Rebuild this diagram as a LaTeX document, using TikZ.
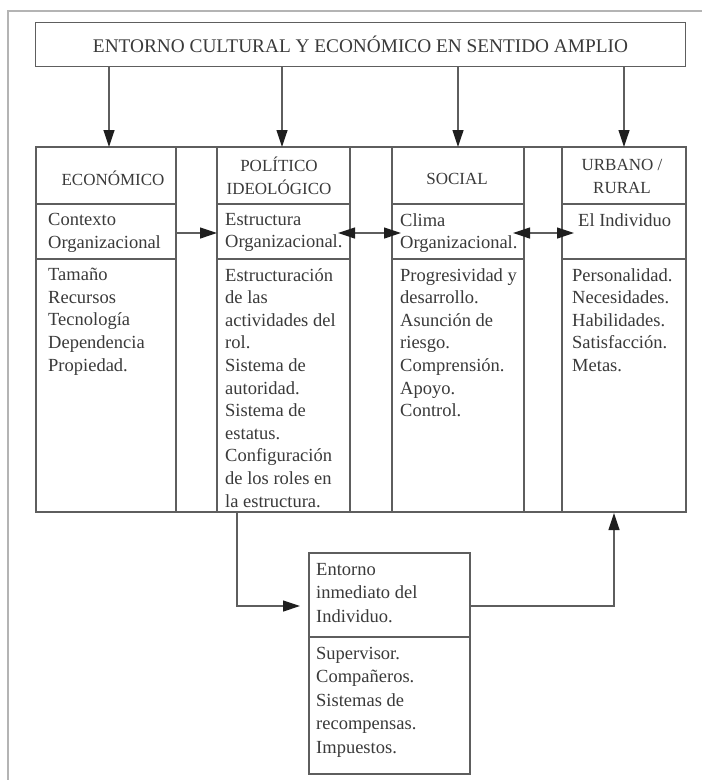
\documentclass[tikz,border=0pt]{standalone}
\usepackage{fontspec}
\setmainfont{Liberation Serif}
\usetikzlibrary{arrows.meta,calc}
\definecolor{linec}{HTML}{5E5E5E}
\definecolor{framec}{HTML}{B4B4B4}
\definecolor{tipc}{HTML}{1E1E1E}
\definecolor{txtc}{HTML}{3A3A3A}
\begin{document}
\begin{tikzpicture}[x=1pt,y=-1pt,
  box/.style={draw=linec, line width=1.2pt, outer sep=0pt, inner sep=0pt, anchor=north west},
  txt/.style={text=txtc, font=\fontsize{18.5}{22.6}\selectfont, align=left, inner sep=0pt, anchor=north west},
  btxt/.style={text=txtc, font=\fontsize{18.5}{23.5}\selectfont, align=left, inner sep=0pt, anchor=north west},
  hdr/.style={text=txtc, font=\fontsize{17}{23}\selectfont, align=center, inner sep=0pt},
  arr/.style={draw=linec, line width=1.2pt, -{Triangle[length=17pt,width=11pt,color=tipc]}},
  darr/.style={draw=linec, line width=1.2pt, {Triangle[length=17pt,width=11pt,color=tipc]}-{Triangle[length=17pt,width=11pt,color=tipc]}}
]
\useasboundingbox (0,0) rectangle (702,780);
\fill[white] (0,0) rectangle (702,780);
% outer frame
\draw[framec, line width=2pt] (8,780) -- (8,11) -- (702,11);
% top box
\node[box, minimum width=650pt, minimum height=44pt, text=txtc, font=\fontsize{19.3}{23}\selectfont] (top) at (35.5,22.5) {ENTORNO CULTURAL Y ECONÓMICO EN SENTIDO AMPLIO};
% band
\node[box, minimum width=650pt, minimum height=365pt] (band) at (36,147) {};
% column 1
\node[box, minimum width=140pt, minimum height=57pt] (h1) at (36,147) {};
\node[box, minimum width=140pt, minimum height=55pt] (m1) at (36,204) {};
\node[box, minimum width=140pt, minimum height=253pt] (b1) at (36,259) {};
% column 2
\node[box, minimum width=133pt, minimum height=57pt] (h2) at (217,147) {};
\node[box, minimum width=133pt, minimum height=55pt] (m2) at (217,204) {};
\node[box, minimum width=133pt, minimum height=253pt] (b2) at (217,259) {};
% column 3
\node[box, minimum width=132pt, minimum height=57pt] (h3) at (392,147) {};
\node[box, minimum width=132pt, minimum height=55pt] (m3) at (392,204) {};
\node[box, minimum width=132pt, minimum height=253pt] (b3) at (392,259) {};
% column 4
\node[box, minimum width=124pt, minimum height=57pt] (h4) at (562,147) {};
\node[box, minimum width=124pt, minimum height=55pt] (m4) at (562,204) {};
\node[box, minimum width=124pt, minimum height=253pt] (b4) at (562,259) {};
% headers
\node[hdr] (h1t) at (113,178) {ECONÓMICO};
\node[hdr] (h2t) at (279,176) {POLÍTICO\\IDEOLÓGICO};
\node[hdr] (h3t) at (457,179) {SOCIAL};
\node[hdr] (h4t) at (622,176) {URBANO /\\RURAL};
% middle texts
\node[txt] (m1t) at (48,213) {Contexto\\Organizacional};
\node[txt] (m2t) at (225,213) {Estructura\\Organizacional.};
\node[txt] (m3t) at (400,213) {Clima\\Organizacional.};
\node[txt] (m4t) at (578,213) {El Individuo};
% body texts
\node[txt] (b1t) at (48,268) {Tamaño\\Recursos\\Tecnología\\Dependencia\\Propiedad.};
\node[txt] (b2t) at (225,268) {Estructuración\\de las\\actividades del\\rol.\\Sistema de\\autoridad.\\Sistema de\\estatus.\\Configuración\\de los roles en\\la estructura.};
\node[txt] (b3t) at (400,268) {Progresividad y\\desarrollo.\\Asunción de\\riesgo.\\Comprensión.\\Apoyo.\\Control.};
\node[txt] (b4t) at (572,268) {Personalidad.\\Necesidades.\\Habilidades.\\Satisfacción.\\Metas.};
% bottom box
\node[box, minimum width=161pt, minimum height=84pt] (bb1) at (309,553) {};
\node[box, minimum width=161pt, minimum height=137pt] (bb2) at (309,637) {};
\node[btxt] (bb1t) at (316,563) {Entorno\\inmediato del\\Individuo.};
\node[btxt] (bb2t) at (316,647) {Supervisor.\\Compañeros.\\Sistemas de\\recompensas.\\Impuestos.};
% top arrows
\draw[arr] ([xshift=3pt]top.south -| h1.north) -- ([xshift=3pt]h1.north);
\draw[arr] ([xshift=-1.5pt]top.south -| h2.north) -- ([xshift=-1.5pt]h2.north);
\draw[arr] (top.south -| h3.north) -- (h3.north);
\draw[arr] (top.south -| h4.north) -- (h4.north);
% horizontal arrows
\draw[arr] ([yshift=-1.5pt]m1.east) -- ([yshift=-1.5pt]m2.west);
\draw[darr] ([xshift=-12pt,yshift=-1.5pt]m2.east) -- ([xshift=9pt,yshift=-1.5pt]m3.west);
\draw[darr] ([xshift=-11pt,yshift=-1.5pt]m3.east) -- ([xshift=12pt,yshift=-1.5pt]m4.west);
% bottom connectors
\draw[arr] ([xshift=20pt]b2.south west) |- ([xshift=-9pt,yshift=-11pt]bb1.west);
\draw[arr] ([yshift=-11pt]bb1.east) -| ([xshift=52pt,yshift=-1pt]b4.south west);
\end{tikzpicture}
\end{document}
